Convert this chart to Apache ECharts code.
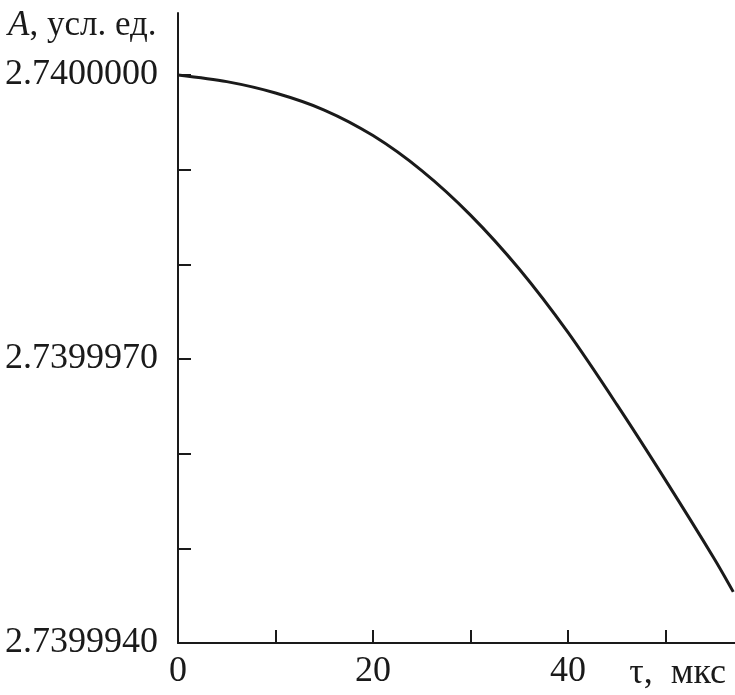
<!DOCTYPE html>
<html>
<head>
<meta charset="utf-8">
<script src="https://cdn.jsdelivr.net/npm/echarts@6/dist/echarts.min.js"></script>
<style>html,body{margin:0;padding:0;background:#fff;}#c{width:735px;height:695px;}</style>
</head>
<body>
<div id="c"></div>
<script>
const tau = [0, 5, 10, 15, 20, 25, 30, 35, 40, 45, 50, 55, 56.95];
const amp = [2.7400000, 2.73999993, 2.73999981, 2.73999963, 2.73999936, 2.73999899, 2.73999852, 2.73999795, 2.73999728, 2.73999652, 2.73999572, 2.73999489, 2.73999454];
const yLabels = ['2.7400000', '2.7399970', '2.7399940'];
const xLabels = ['0', '20', '40'];

const font = '"Liberation Serif", "DejaVu Serif", serif';
const ink = '#1a1a1a';
const chart = echarts.init(document.getElementById('c'));
chart.setOption({
  animation: false,
  backgroundColor: '#fff',
  title: [
    {
      text: '{i|A}, усл. ед.',
      left: 3, top: 3,
      textStyle: { fontFamily: font, fontSize: 35, fontWeight: 'normal', color: ink,
        rich: { i: { fontStyle: 'italic', fontFamily: font, fontSize: 35, color: ink } } }
    },
    {
      text: 'τ,  мкс',
      right: 4, top: 651,
      textStyle: { fontFamily: font, fontSize: 36, fontWeight: 'normal', color: ink }
    }
  ],
  grid: [
    { left: 178, top: 75, bottom: 52, width: 585, outerBoundsMode: 'none', containLabel: false },
    { left: 178, top: 13, height: 62, width: 10, outerBoundsMode: 'none' }
  ],
  xAxis: [
    {
      type: 'value', gridIndex: 0, min: 0, max: 60, interval: 10,
      axisLine: { show: true, lineStyle: { color: ink, width: 2 } },
      axisTick: { show: true, inside: true, length: 13, lineStyle: { color: ink, width: 2 } },
      splitLine: { show: false },
      axisLabel: {
        margin: 11, fontFamily: font, fontSize: 36, color: ink,
        formatter: v => xLabels.includes(String(Math.round(v))) ? String(Math.round(v)) : ''
      }
    },
    { type: 'value', gridIndex: 1, show: false, min: 0, max: 1 }
  ],
  yAxis: [
    {
      type: 'value', gridIndex: 0, min: 2.739994, max: 2.74, interval: 0.000001,
      axisLine: { show: true, lineStyle: { color: ink, width: 2 } },
      axisTick: { show: true, inside: true, length: 13, lineStyle: { color: ink, width: 2 } },
      splitLine: { show: false },
      axisLabel: {
        margin: 20, fontFamily: font, fontSize: 36, color: ink,
        formatter: v => { const s = v.toFixed(7); return yLabels.includes(s) ? s : ''; }
      }
    },
    {
      type: 'value', gridIndex: 1, min: 0, max: 1,
      axisLine: { show: true, lineStyle: { color: ink, width: 2 } },
      axisTick: { show: false }, axisLabel: { show: false }, splitLine: { show: false }
    }
  ],
  series: [{
    type: 'line', xAxisIndex: 0, yAxisIndex: 0,
    data: tau.map((t, i) => [t, amp[i]]),
    smooth: 0.3, showSymbol: false, clip: false,
    lineStyle: { color: ink, width: 3 }
  }]
});
</script>
</body>
</html>
